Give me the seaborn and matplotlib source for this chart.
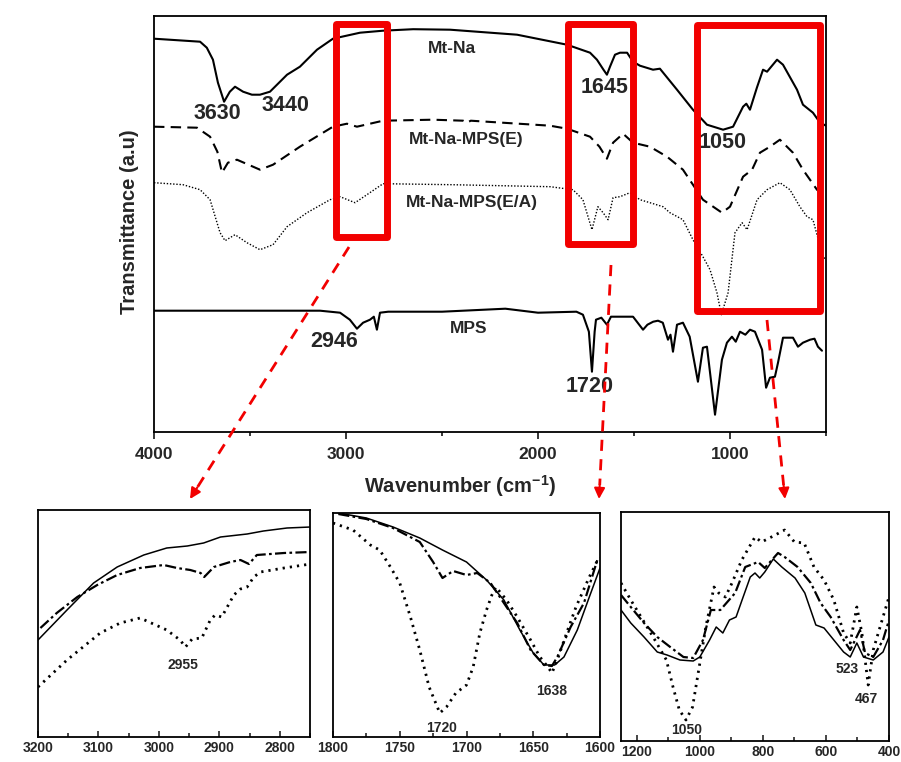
import numpy as np
import pandas as pd
import matplotlib
matplotlib.use("Agg")
import matplotlib.pyplot as plt
import seaborn as sns
from matplotlib.patches import Rectangle, FancyArrowPatch
from matplotlib.lines import Line2D
from matplotlib.ticker import MultipleLocator

# ---------------- main spectra (wavenumber, transmittance a.u.) ----------------
mtna_wn = [4000, 3760, 3725, 3693, 3667, 3635, 3605, 3578, 3536, 3490, 3448, 3396, 3307, 3240, 3151,
           3068, 2927, 2807, 2650, 2458, 2109, 1849, 1729, 1693, 1659, 1641, 1625, 1599, 1573, 1536,
           1505, 1469, 1401, 1365, 1276, 1193, 1120, 1036, 984, 932, 915, 896, 860, 828, 807, 755,
           724, 651, 620, 568, 531, 500]
mtna_y = [393, 390, 384, 372, 349, 330, 340, 345, 340, 337, 337, 340, 357, 365, 382,
          393, 399, 401, 402.5, 402, 397, 387, 379, 372, 362, 357, 365, 377, 379, 379,
          370, 366, 362, 363, 342, 322, 307, 302, 305, 325, 328, 322, 344, 362, 360, 372,
          367, 342, 327, 319, 309, 306]

mpse_wn = [4000, 3776, 3708, 3670, 3646, 3615, 3568, 3448, 3380, 3240, 3068, 2995, 2943, 2807, 2547,
           2390, 2370, 2350, 1937, 1849, 1729, 1680, 1641, 1609, 1557, 1505, 1417, 1328, 1245, 1141,
           1042, 1000, 932, 885, 844, 792, 740, 672, 620, 547, 505]
mpse_y = [305, 304, 295, 280, 259, 269, 272, 262, 267, 285, 305, 308, 305, 311, 312,
          311, 309, 311, 306, 303, 295, 285, 273, 289, 298, 289, 285, 275, 262, 232,
          219, 225, 255, 262, 279, 285, 292, 279, 262, 242, 235]

mpsea_wn = [4000, 3849, 3760, 3708, 3656, 3630, 3578, 3516, 3448, 3380, 3307, 3203, 3083, 3031, 2953,
            2891, 2807, 2450, 1937, 1818, 1766, 1719, 1688, 1661, 1635, 1609, 1573, 1521, 1469, 1417,
            1349, 1313, 1245, 1193, 1141, 1104, 1068, 1045, 1010, 974, 937, 911, 859, 807, 740,
            688, 636, 599, 568, 516, 500]
mpsea_y = [249, 247, 242, 232, 199, 191, 197, 189, 182, 187, 205, 219, 232, 235, 229,
           237, 248, 247, 245, 242, 232, 202, 225, 219, 212, 234, 235, 239, 232, 229,
           225, 219, 212, 192, 175, 162, 139, 117, 139, 199, 209, 202, 232, 242, 249,
           242, 225, 215, 212, 175, 172]

mps_wn = [4000, 3135, 3031, 2980, 2943, 2911, 2875, 2855, 2839, 2823, 2780, 2500, 2170, 2000, 1800,
          1766, 1735, 1719, 1705, 1698, 1670, 1641, 1620, 1505, 1453, 1430, 1400, 1375, 1350, 1323,
          1310, 1297, 1276, 1245, 1210, 1167, 1141, 1120, 1078, 1042, 1016, 990, 970, 948, 920,
          896, 870, 833, 812, 792, 766, 750, 724, 672, 646, 620, 583, 560, 542, 521]
mps_y = [121, 121, 119, 112, 103, 109, 112, 115, 102, 119, 120, 120, 123, 119, 120,
         117, 100, 60, 100, 112, 114, 107, 115, 115, 102, 107, 110, 111, 109, 92,
         97, 80, 107, 109, 95, 50, 84, 85, 17, 72, 89, 95, 90, 100, 97,
         102, 100, 82, 44, 54, 55, 69, 94, 94, 85, 89, 92, 93, 85, 81]

# ---------------- inset 1 : 3200-2750 ----------------
i1_na_wn = [3200, 3152, 3108, 3069, 3025, 2987, 2953, 2926, 2898, 2854, 2827, 2788, 2749]
i1_na_y = [97, 127, 154, 170, 182, 189, 191, 194, 200, 203, 206, 209, 210]
i1_e_wn = [3196, 3169, 3135, 3102, 3069, 3031, 2992, 2970, 2948, 2931, 2925, 2909, 2882, 2865,
           2851, 2838, 2793, 2749]
i1_e_y = [109, 124, 140, 152, 162, 169, 172, 169, 167, 164, 160, 170, 175, 177, 173, 182, 184, 185]
i1_ea_wn = [3200, 3152, 3097, 3064, 3031, 2987, 2965, 2956, 2945, 2929, 2915, 2907, 2896, 2876,
            2865, 2854, 2843, 2832, 2793, 2749]
i1_ea_y = [50, 77, 104, 114, 119, 107, 97, 90, 98, 99, 117, 122, 120, 142, 148, 150, 160, 165, 169, 173]

# ---------------- inset 2 : 1800-1600 ----------------
i2_na_wn = [1796, 1775, 1755, 1735, 1718, 1700, 1685, 1672, 1660, 1650, 1642, 1634, 1627, 1617, 1608, 1600]
i2_na_y = [224, 219, 210, 199, 187, 175, 157, 137, 107, 84, 72, 72, 80, 107, 140, 169]
i2_e_wn = [1796, 1775, 1755, 1735, 1725, 1718, 1710, 1700, 1692, 1682, 1672, 1662, 1652, 1642,
           1636, 1632, 1622, 1612, 1602, 1600]
i2_e_y = [223, 218, 209, 195, 175, 159, 166, 162, 164, 154, 134, 114, 87, 72, 71, 80, 110, 134, 177, 179]
i2_ea_wn = [1800, 1785, 1772, 1765, 1757, 1750, 1742, 1735, 1728, 1720, 1715, 1708, 1700, 1695,
            1690, 1685, 1681, 1678, 1670, 1662, 1652, 1645, 1639, 1636, 1632, 1625, 1618, 1608, 1601]
i2_ea_y = [214, 207, 192, 187, 170, 154, 120, 87, 50, 24, 30, 44, 52, 70, 104, 127, 142, 150,
           137, 120, 97, 80, 70, 64, 77, 104, 130, 160, 179]

# ---------------- inset 3 : 1250-400 ----------------
i3_na_wn = [1250, 1219, 1177, 1135, 1104, 1063, 1021, 1000, 969, 948, 927, 906, 885, 866, 840, 825,
            810, 794, 767, 740, 698, 667, 632, 606, 575, 544, 523, 502, 481, 450, 419, 400]
i3_na_y = [131, 118, 104, 89, 86, 81, 80, 84, 101, 114, 108, 121, 124, 141, 164, 168,
           163, 169, 182, 174, 163, 148, 116, 113, 101, 89, 84, 98, 84, 81, 89, 104]
i3_e_wn = [1250, 1219, 1177, 1135, 1094, 1052, 1021, 990, 965, 935, 888, 856, 815, 794, 752, 731,
           690, 648, 617, 585, 544, 523, 492, 476, 450, 419, 400]
i3_e_y = [146, 134, 118, 104, 94, 84, 83, 101, 131, 131, 148, 174, 179, 173, 188, 184,
          174, 158, 138, 124, 101, 91, 111, 88, 84, 101, 121]
i3_ea_wn = [1250, 1219, 1148, 1106, 1085, 1065, 1044, 1023, 1002, 981, 955, 940, 919, 898, 867, 825,
            804, 773, 731, 700, 669, 638, 606, 575, 544, 523, 502, 486, 466, 450, 419, 400]
i3_ea_y = [158, 141, 104, 81, 54, 31, 21, 34, 74, 114, 154, 148, 144, 158, 181, 204,
           199, 204, 211, 199, 198, 174, 161, 141, 108, 98, 134, 108, 56, 91, 124, 144]

curve_names = ["Mt-Na", "Mt-Na-MPS(E)", "Mt-Na-MPS(E/A)", "MPS"]
main_ticks = [4000, 3000, 2000, 1000]

# ---------------- figure ----------------
sns.set_theme(style="ticks")
plt.rcParams["font.family"] = ["Liberation Sans", "DejaVu Sans"]
plt.rcParams["mathtext.fontset"] = "custom"
plt.rcParams["mathtext.bf"] = "Liberation Sans:bold"
plt.rcParams["mathtext.rm"] = "Liberation Sans:bold"
plt.rcParams["mathtext.default"] = "bf"

W, H = 901, 762
fig = plt.figure(figsize=(W / 100, H / 100), dpi=100)
fig.patch.set_facecolor("white")

def px(x, y):
    return (x / W, 1 - y / H)

def draw(ax, wn, y, lw, ls, cap="butt"):
    df = pd.DataFrame({"wn": wn, "y": y})
    sns.lineplot(data=df, x="wn", y="y", ax=ax, color="black", lw=lw, linestyle=ls,
                 sort=False, estimator=None, dash_capstyle=cap)

ax = fig.add_axes([154 / W, 1 - 431.7 / H, 672 / W, 415.7 / H])
draw(ax, mtna_wn, mtna_y, 1.5, "-")
draw(ax, mpse_wn, mpse_y, 1.5, (0, (5, 3)))
draw(ax, mpsea_wn, mpsea_y, 1.0, (0, (1, 1.3)))
draw(ax, mps_wn, mps_y, 1.5, "-")
ax.set_xlim(4000, 500)
ax.set_ylim(0, 415.7)
ax.set_yticks([])
ax.set_xticks(main_ticks)
ax.xaxis.set_minor_locator(MultipleLocator(500))
ax.tick_params(axis="x", which="major", direction="out", length=5, width=1.3, pad=6,
               labelsize=12.5)
ax.tick_params(axis="x", which="minor", direction="out", length=3, width=1.3)
ax.tick_params(top=False, right=False, left=False)
for lab in ax.get_xticklabels():
    lab.set_fontweight("bold")
for s in ax.spines.values():
    s.set_linewidth(1.3)
    s.set_color("black")
ax.set_xlabel(r"Wavenumber (cm$^{-1}$)", fontsize=14.5, fontweight="bold")
ax.xaxis.set_label_coords(0.455, -0.1)
ax.set_ylabel("Transmittance (a.u)", fontsize=14.5, fontweight="bold")
ax.yaxis.set_label_coords(-0.0225, 0.504)

# curve labels
lab_kw = dict(fontsize=12.5, fontweight="bold", ha="center", va="center")
ax.text(2448, 383, curve_names[0], **lab_kw)
ax.text(2375, 292, curve_names[1], **lab_kw)
ax.text(2344, 229, curve_names[2], **lab_kw)
ax.text(2359, 103, curve_names[3], **lab_kw)
# peak labels
pk_kw = dict(fontsize=15.5, fontweight="bold", ha="center", va="center")
ax.text(3672, 318, "3630", **pk_kw)
ax.text(3313, 326, "3440", **pk_kw)
ax.text(1651, 344, "1645", **pk_kw)
ax.text(1036, 289, "1050", **pk_kw)
ax.text(3063, 90, "2946", **pk_kw)
ax.text(1729, 45, "1720", **pk_kw)

# red boxes
red = "#f20000"
for (x0, x1, y0, y1) in [(3050, 2784, 195, 408), (1846, 1503, 188, 408), (1174, 529, 121, 407)]:
    ax.add_patch(Rectangle((x1, y0), x0 - x1, y1 - y0, fill=False, edgecolor=red, lw=5,
                           joinstyle="round", clip_on=False, zorder=5))

# red dashed arrows (figure pixel space)
for (sx, sy, ex, ey) in [(349, 247, 190, 499), (611, 265, 599, 499), (767, 320, 785, 499)]:
    dx, dy = ex - sx, ey - sy
    L = np.hypot(dx, dy)
    mx, my = ex - dx / L * 14, ey - dy / L * 14
    fig.add_artist(Line2D([sx / W, mx / W], [1 - sy / H, 1 - my / H], color=red, lw=2,
                          linestyle=(0, (4, 3)), transform=fig.transFigure))
    fig.add_artist(FancyArrowPatch(px(mx, my), px(ex, ey), transform=fig.transFigure,
                                   arrowstyle="-|>", mutation_scale=16, color=red, lw=1.5,
                                   shrinkA=0, shrinkB=0))

# ---------------- insets ----------------
narrow = ["Liberation Sans Narrow", "Liberation Sans", "DejaVu Sans"]

def inset(rect, xlim, major, minor, ylim, curves, labels):
    a = fig.add_axes(rect)
    na, e, ea = curves
    draw(a, na[0], na[1], 1.1, "-")
    draw(a, e[0], e[1], 1.6, (0, (5, 1.5, 1.2, 1.5)))
    draw(a, ea[0], ea[1], 2.0, (0, (0.8, 1.8)))
    a.set_xlim(*xlim)
    a.set_ylim(*ylim)
    a.set_yticks([])
    a.xaxis.set_major_locator(MultipleLocator(major))
    a.xaxis.set_minor_locator(MultipleLocator(minor))
    a.tick_params(axis="x", which="major", direction="in", length=4, width=1.2, pad=3,
                  labelsize=10)
    a.tick_params(axis="x", which="minor", direction="in", length=3, width=1.2)
    a.tick_params(left=False, right=False, top=False)
    for lab in a.get_xticklabels():
        lab.set_fontweight("bold")
        lab.set_family(narrow)
    for s in a.spines.values():
        s.set_linewidth(1.3)
        s.set_color("black")
    a.set_xlabel("")
    a.set_ylabel("")
    for (x, y, t) in labels:
        a.text(x, y, t, fontsize=10, fontweight="bold", family=narrow, ha="center", va="center")
    return a

inset([38 / W, 25 / H, 272 / W, 227 / H], (3200, 2750), 100, 50, (0, 227),
      [(i1_na_wn, i1_na_y), (i1_e_wn, i1_e_y), (i1_ea_wn, i1_ea_y)],
      [(2960, 72, "2955")])
inset([333 / W, 25 / H, 267 / W, 224 / H], (1800, 1600), 50, 25, (0, 224),
      [(i2_na_wn, i2_na_y), (i2_e_wn, i2_e_y), (i2_ea_wn, i2_ea_y)],
      [(1719, 9, "1720"), (1636, 46, "1638")])
inset([621 / W, 21 / H, 268 / W, 229 / H], (1250, 400), 200, 100, (0, 229),
      [(i3_na_wn, i3_na_y), (i3_e_wn, i3_e_y), (i3_ea_wn, i3_ea_y)],
      [(1041, 11, "1050"), (534, 72, "523"), (472, 42, "467")])

fig.savefig("out.png", dpi=100, facecolor="white")
